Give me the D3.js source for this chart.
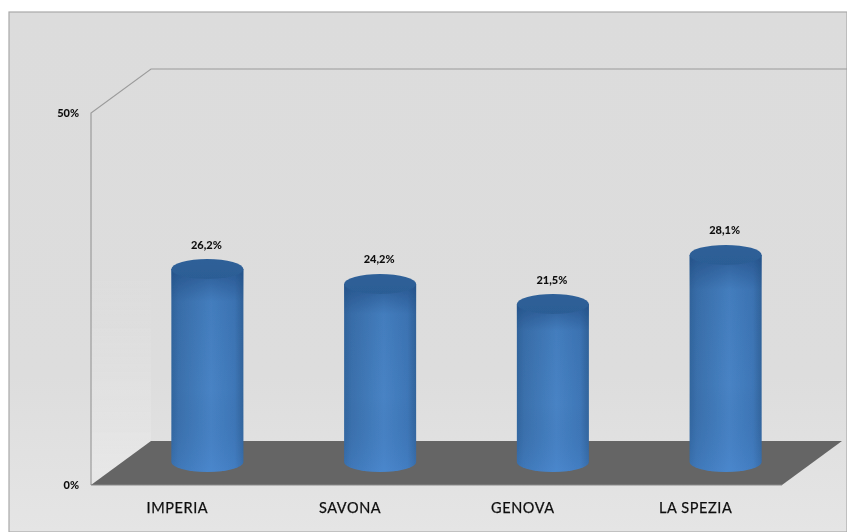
<!DOCTYPE html>
<html><head><meta charset="utf-8">
<script src="https://cdn.jsdelivr.net/npm/d3@7"></script>
<style>html,body{margin:0;padding:0;background:#fff}svg{display:block}text{font-family:Lato,"Open Sans",sans-serif;fill:#111}</style>
</head><body><svg id="c" width="847" height="532"></svg>
<script>
const categories = ["IMPERIA","SAVONA","GENOVA","LA SPEZIA"];
const values = [26.2,24.2,21.5,28.1];
const valueLabels = ["26,2%","24,2%","21,5%","28,1%"];
const axisTicks = [0,50];

const W=847,H=532;
const svg=d3.select("#c");
const defs=svg.append("defs");
function grad(id,stops,vertical){
  const g=defs.append("linearGradient").attr("id",id).attr("x1",0).attr("y1",0)
    .attr("x2",vertical?0:1).attr("y2",vertical?1:0);
  stops.forEach(s=>{const t=g.append("stop").attr("offset",s[0]).attr("stop-color",s[1]);
    if(s[2]!==undefined)t.attr("stop-opacity",s[2]);});
}
grad("bg",[[0,"#dcdcdc"],[.7,"#dddddd"],[1,"#e5e5e5"]],true);
grad("cyl",[[0,"#33679f"],[.1,"#3c72ae"],[.55,"#4a86c8"],[.88,"#4079ba"],[1,"#33659c"]],false);
grad("shade",[[0,"#1f4a80",.7],[.16,"#1f4a80",.15],[.6,"#1f4a80",.05],[1,"#4a8ad8",.3]],true);
grad("cylTop",[[0,"#2e6098"],[1,"#2c5d95"]],true);
grad("side",[[.5,"#e2e2e2",0],[1,"#e9e9e9",.8]],true);
defs.append("filter").attr("id","soft").attr("x","-5%").attr("y","-5%").attr("width","110%").attr("height","110%")
  .append("feGaussianBlur").attr("stdDeviation",.7);
defs.append("filter").attr("id","softText").attr("x","-20%").attr("y","-30%").attr("width","140%").attr("height","160%")
  .append("feGaussianBlur").attr("stdDeviation",.3);

// chart frame
svg.append("rect").attr("x",9).attr("y",12).attr("width",W-9).attr("height",H-12)
  .attr("fill","url(#bg)").attr("stroke","#a9a9a9").attr("stroke-width",1.2);

// scales
const y=d3.scaleLinear().domain([0,50]).range([485,113]);
const dx=60,dy=44;
const xFront=d3.scaleBand().domain(categories).range([91,782]);
const xMid=d3.scaleBand().domain(categories).range([91+dx/2,782+dx/2]);

const g=svg.append("g").attr("filter","url(#soft)");
// side wall
g.append("path").attr("d",d3.line()([[91,y(0)],[91,y(50)],[91+dx,y(50)-dy],[91+dx,y(0)-dy]])+"Z").attr("fill","url(#side)");
// back wall lines
g.append("path").attr("d",d3.line()([[91,y(0)],[91,y(50)],[91+dx,y(50)-dy],[W,y(50)-dy]]))
  .attr("fill","none").attr("stroke","#9c9c9c").attr("stroke-width",1.2);
// floor
g.append("path").attr("d",d3.line()([[91,y(0)],[91+dx,y(0)-dy],[782+dx,y(0)-dy],[782,y(0)]])+"Z")
  .attr("fill","#656565");
g.append("path").attr("d",d3.line()([[91,y(0)],[782,y(0)]])).attr("stroke","#8a8a8a").attr("stroke-width",1.2);

// cylinders
const rx=36,ry=10,floorOff=23,topOff=21;
const bars=g.selectAll("g.bar").data(categories).join("g").attr("class","bar");
bars.each(function(c,i){
  const s=d3.select(this);
  const cx=xMid(c)+xMid.bandwidth()/2;
  const yb=y(0)-floorOff, yt=y(values[i])-topOff;
  const d=`M${cx-rx},${yt}L${cx-rx},${yb}A${rx},${ry} 0 0 0 ${cx+rx},${yb}L${cx+rx},${yt}Z`;
  s.append("path").attr("d",d).attr("fill","url(#cyl)");
  s.append("path").attr("d",d).attr("fill","url(#shade)");
  s.append("ellipse").attr("cx",cx).attr("cy",yt).attr("rx",rx).attr("ry",ry).attr("fill","url(#cylTop)");
});

const t=svg.append("g").attr("filter","url(#softText)");
// value labels
t.selectAll("text.val").data(categories).join("text").attr("class","val")
  .attr("x",c=>xMid(c)+xMid.bandwidth()/2-1)
  .attr("y",(c,i)=>y(values[i])-topOff-20.5)
  .attr("text-anchor","middle").attr("font-size",11).attr("font-weight",900)
  .text((c,i)=>valueLabels[i]);

// category labels
t.selectAll("text.cat").data(categories).join("text").attr("class","cat")
  .attr("x",c=>xFront(c)+xFront.bandwidth()/2).attr("y",513).attr("text-anchor","middle")
  .attr("font-size",14.5).attr("letter-spacing",.6).attr("stroke","#111").attr("stroke-width",.25).text(c=>c);

// y ticks
t.selectAll("text.tick").data(axisTicks).join("text").attr("class","tick")
  .attr("x",79).attr("y",d=>y(d)+4).attr("text-anchor","end")
  .attr("font-size",11).attr("font-weight",900).text(d=>d+"%");
</script></body></html>
